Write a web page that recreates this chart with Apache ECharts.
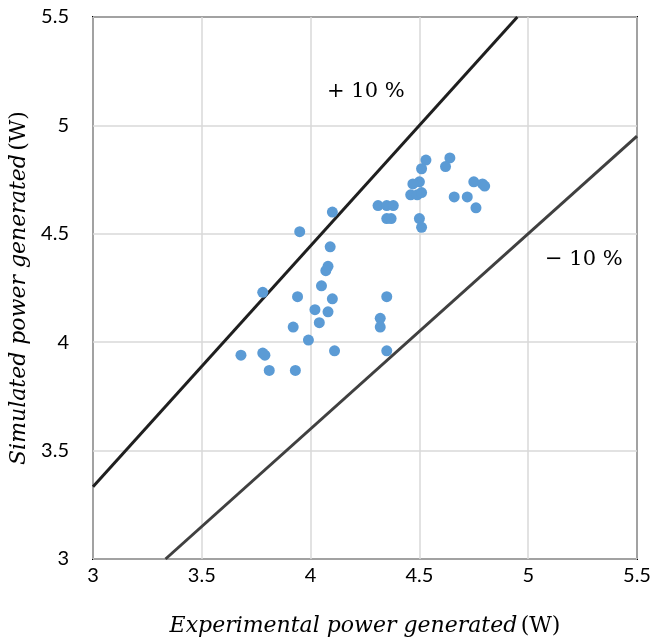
<!DOCTYPE html>
<html>
<head>
<meta charset="utf-8">
<script src="https://cdn.jsdelivr.net/npm/echarts@6/dist/echarts.min.js"></script>
<style>
  html, body { margin: 0; padding: 0; background: #fff; }
  #chart { width: 654px; height: 642px; }
</style>
</head>
<body>
<div id="chart"></div>
<script>
// experimental (x) vs simulated (y) power, W
var expPower = [
    4.10, 3.95, 4.09, 4.08, 4.07, 4.05, 3.78, 3.94, 4.10, 4.35,
    4.02, 4.08, 4.04, 3.92, 4.32, 4.32, 3.99, 3.68, 3.78, 3.79,
    4.11, 4.35, 3.81, 3.93,
    4.31, 4.35, 4.38, 4.35, 4.37, 4.53, 4.51, 4.64, 4.62, 4.50,
    4.47, 4.46, 4.49, 4.51, 4.50, 4.51, 4.66, 4.72, 4.75, 4.79,
    4.80, 4.76
];
var simPower = [
    4.60, 4.51, 4.44, 4.35, 4.33, 4.26, 4.23, 4.21, 4.20, 4.21,
    4.15, 4.14, 4.09, 4.07, 4.11, 4.07, 4.01, 3.94, 3.95, 3.94,
    3.96, 3.96, 3.87, 3.87,
    4.63, 4.63, 4.63, 4.57, 4.57, 4.84, 4.80, 4.85, 4.81, 4.74,
    4.73, 4.68, 4.68, 4.69, 4.57, 4.53, 4.67, 4.67, 4.74, 4.73,
    4.72, 4.62
];
// +10 % and -10 % bounds
var upperLine = [[3, 3 / 0.9], [4.95, 5.5]];
var lowerLine = [[10 / 3, 3], [5.5, 4.95]];
var axisTicks = [3, 3.5, 4, 4.5, 5, 5.5];

var chartMgr = {

    init: function () {
        var myChart = echarts.init(document.getElementById('chart'));

        var points = expPower.map(function (x, i) { return [x, simPower[i]]; });
        var tickFont = { color: '#000', fontSize: 20, fontFamily: 'Lato' };

        var titleRich = {
            it: { fontFamily: 'DejaVu Serif', fontStyle: 'italic', fontSize: 22, color: '#000' },
            up: { fontFamily: 'DejaVu Serif', fontSize: 22, color: '#000' }
        };

        var option = {
            animation: false,
            grid: {
                left: 93, right: 17, top: 17, bottom: 82,
                show: true,
                borderColor: '#000',
                borderWidth: 2
            },
            xAxis: {
                type: 'value',
                min: axisTicks[0],
                max: axisTicks[axisTicks.length - 1],
                interval: 0.5,
                axisLine: { show: false },
                axisTick: { show: false },
                axisLabel: Object.assign({ margin: 7 }, tickFont),
                splitLine: { lineStyle: { color: '#d9d9d9', width: 1.5 } },
                name: '{it|Experimental power generated} {up|(W)}',
                nameLocation: 'middle',
                nameGap: 56,
                nameTextStyle: { rich: titleRich }
            },
            yAxis: {
                type: 'value',
                min: axisTicks[0],
                max: axisTicks[axisTicks.length - 1],
                interval: 0.5,
                axisLine: { show: false },
                axisTick: { show: false },
                axisLabel: Object.assign({ margin: 24 }, tickFont),
                splitLine: { lineStyle: { color: '#d9d9d9', width: 1.5 } },
                name: '{it|Simulated power generated} {up|(W)}',
                nameLocation: 'middle',
                nameGap: 54,
                nameTextStyle: { rich: titleRich }
            },
            series: [
                {
                    type: 'line',
                    data: upperLine,
                    symbol: 'none',
                    lineStyle: { color: '#1f1f1f', width: 3 },
                    z: 1
                },
                {
                    type: 'line',
                    data: lowerLine,
                    symbol: 'none',
                    lineStyle: { color: '#404040', width: 3 },
                    z: 1
                },
                {
                    type: 'scatter',
                    data: points,
                    symbol: 'circle',
                    symbolSize: 11,
                    itemStyle: { color: '#5b9bd5', opacity: 1 },
                    z: 3
                }
            ],
            graphic: [
                {
                    type: 'text',
                    left: 327, top: 81,
                    style: { text: '+ 10 %', fontFamily: 'DejaVu Serif', fontSize: 21, fill: '#000' }
                },
                {
                    type: 'text',
                    left: 545, top: 249,
                    style: { text: '\u2212 10 %', fontFamily: 'DejaVu Serif', fontSize: 21, fill: '#000' }
                }
            ]
        };

        myChart.setOption(option);
    }
};

chartMgr.init();
</script>
</body>
</html>
